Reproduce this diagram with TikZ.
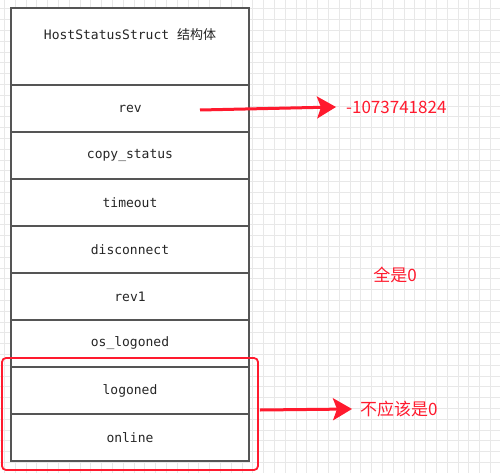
\documentclass[tikz,border=0pt]{standalone}
\usepackage{fontspec}
\setmonofont{DejaVu Sans Mono}
\newfontfamily\cjk{Noto Sans CJK SC}
\usetikzlibrary{positioning,arrows.meta,fit}
\definecolor{edge}{HTML}{555555}
\definecolor{ink}{HTML}{262626}
\definecolor{mark}{HTML}{FF1A2E}
\tikzset{
  gridline/.style={draw=black!9,line width=0.8pt},
  field/.style={draw=edge,line width=1.6pt,fill=white,minimum width=238pt,minimum height=47pt,
    outer sep=0pt,inner sep=0pt,text=ink,font=\ttfamily\fontsize{13}{15}\selectfont},
  note/.style={text=mark,font=\cjk\fontsize{17}{20}\selectfont,inner sep=0pt},
  hlbox/.style={draw=mark,line width=1.8pt,rounded corners=4pt,inner sep=9pt},
  redarrow/.style={draw=mark,line width=3pt,-{Stealth[length=19pt,width=22pt,inset=4pt]}}
}
\begin{document}
\begin{tikzpicture}[x=1pt,y=-1pt]
\useasboundingbox (0,0) rectangle (500,473);
\fill[white] (0,0) rectangle (500,473);
\foreach \gx in {0,...,45} \draw[gridline] ({4.4+10.8*\gx},0) -- ({4.4+10.8*\gx},473);
\foreach \gy in {0,...,43} \draw[gridline] (0,{-2+10.8*\gy}) -- (500,{-2+10.8*\gy});

\node[field,minimum height=77pt] (hdr) at (130,46.5) {};
\node[field,draw=none,fill=none,minimum height=0pt] (title) at (130,35) {HostStatusStruct {\cjk 结构体}};
\node[field,below=0pt of hdr] (rev) {rev};
\node[field,below=0pt of rev] (copy) {copy\_status};
\node[field,below=0pt of copy] (timeout) {timeout};
\node[field,below=0pt of timeout] (disc) {disconnect};
\node[field,below=0pt of disc] (revone) {rev1};
\node[field,below=0pt of revone] (oslog) {os\_logoned};
\node[field,below=0pt of oslog] (logon) {logoned};
\node[field,below=0pt of logon] (online) {online};
\node[hlbox,fit=(logon)(online)] (hl) {};

\node[note,anchor=west] (val) at (346,107) {-1073741824};
\node[note] (all) at (395,275) {全是0};
\node[note,anchor=west] (wrong) at (360,409) {不应该是0};

\coordinate (revtail) at (200,110);
\draw[redarrow] (revtail) -- ([xshift=-10pt]val.west);
\draw[redarrow] ([xshift=1pt,yshift=4pt]hl.east) -- ([xshift=-8pt]wrong.west);
\end{tikzpicture}
\end{document}
